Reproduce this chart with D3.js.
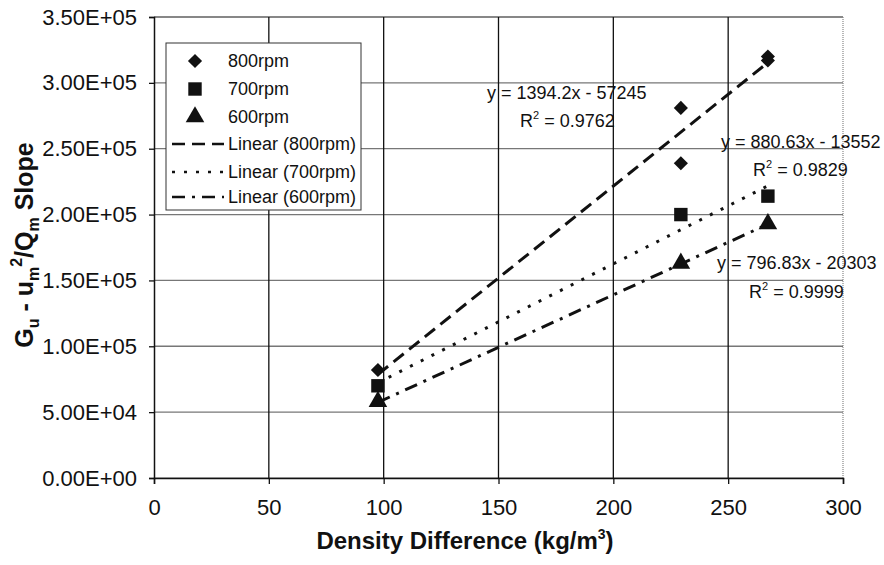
<!DOCTYPE html>
<html>
<head>
<meta charset="utf-8">
<script src="https://cdn.jsdelivr.net/npm/d3@7"></script>
<style>
  body { margin: 0; background: #fff; }
  text { font-family: "Liberation Sans", Arial, sans-serif; }
</style>
</head>
<body>
<div id="chart"></div>
<script>
// data
var xTicks = [0, 50, 100, 150, 200, 250, 300];
var yTicks = [0, 50000, 100000, 150000, 200000, 250000, 300000, 350000];
var yTickLabels = ["0.00E+00", "5.00E+04", "1.00E+05", "1.50E+05", "2.00E+05", "2.50E+05", "3.00E+05", "3.50E+05"];

var x800 = [97.5, 229.4, 229.4, 267.3, 267.3];
var y800 = [82000, 281000, 239000, 320000, 317000];
var x700 = [97.5, 229.4, 267.3];
var y700 = [70000, 200000, 214000];
var x600 = [97.5, 229.4, 267.3];
var y600 = [58000, 163000, 193000];

var seriesNames = ["800rpm", "700rpm", "600rpm"];
var slopes = [1394.2, 880.63, 796.83];
var intercepts = [-57245, -13552, -20303];
var rSquared = ["0.9762", "0.9829", "0.9999"];

var W = 884, H = 565;
var margin = { top: 17, right: 41, bottom: 87, left: 154 },
    width = W - margin.left - margin.right,
    height = H - margin.top - margin.bottom;

var svg = d3.select("#chart").append("svg")
    .attr("width", W).attr("height", H);
var g = svg.append("g")
    .attr("transform", "translate(" + margin.left + "," + margin.top + ")");

var x = d3.scaleLinear().domain([0, 300]).range([0, width]);
var y = d3.scaleLinear().domain([0, 350000]).range([height, 0]);

// grid lines
g.append("g").selectAll("line").data(yTicks).enter().append("line")
    .attr("x1", 0).attr("x2", width)
    .attr("y1", function (d) { return y(d); })
    .attr("y2", function (d) { return y(d); })
    .attr("stroke", function (d) { return d == 350000 ? "#111" : "#777"; })
    .attr("stroke-width", function (d) { return d == 100000 ? 1.6 : 1.2; });
g.append("g").selectAll("line").data(xTicks.slice(1, -1)).enter().append("line")
    .attr("x1", function (d) { return x(d); })
    .attr("x2", function (d) { return x(d); })
    .attr("y1", 0).attr("y2", height)
    .attr("stroke", "#111").attr("stroke-width", 1.3);
// right border (dotted)
g.append("line")
    .attr("x1", width).attr("x2", width).attr("y1", 0).attr("y2", height)
    .attr("stroke", "#888").attr("stroke-width", 1.2).attr("stroke-dasharray", "1,1");

// axes
var yAxis = g.append("g")
    .call(d3.axisLeft(y).tickValues(yTicks)
        .tickFormat(function (d, i) { return yTickLabels[i]; })
        .tickSize(5).tickPadding(12));
var xAxis = g.append("g")
    .attr("transform", "translate(0," + height + ")")
    .call(d3.axisBottom(x).tickValues(xTicks).tickSize(6).tickPadding(15));
[xAxis, yAxis].forEach(function (a) {
    a.select(".domain").attr("stroke", "#111").attr("stroke-width", 1.5);
    a.selectAll(".tick line").attr("stroke", "#111").attr("stroke-width", 1.3);
    a.selectAll("text").attr("font-size", 22).attr("fill", "#111")
        .style("font-family", "Liberation Sans, Arial, sans-serif");
});

// trend lines
var dashes = ["13,7", "3,9", "13,7,3,7"];
var xRanges = [d3.extent(x800), d3.extent(x700), d3.extent(x600)];
slopes.forEach(function (m, i) {
    var ext = xRanges[i];
    g.append("line")
        .attr("x1", x(ext[0])).attr("y1", y(m * ext[0] + intercepts[i]))
        .attr("x2", x(ext[1])).attr("y2", y(m * ext[1] + intercepts[i]))
        .attr("stroke", "#111").attr("stroke-width", 3)
        .attr("stroke-dasharray", dashes[i]);
});

// markers
var diamond = d3.symbol().type(d3.symbolSquare).size(100);
var square = d3.symbol().type(d3.symbolSquare).size(180);
var triangle = d3.symbol().type(d3.symbolTriangle).size(150);

function drawMarkers(xs, ys, sym, rot) {
    g.append("g").selectAll("path").data(xs).enter().append("path")
        .attr("d", sym)
        .attr("transform", function (d, i) {
            return "translate(" + x(d) + "," + y(ys[i]) + ") rotate(" + rot + ")";
        })
        .attr("fill", "#111");
}
drawMarkers(x800, y800, diamond, 45);
drawMarkers(x700, y700, square, 0);
drawMarkers(x600, y600, triangle, 0);

// equation labels
var eqPos = [[487, 99, 520, 127], [721, 148, 753, 176], [717, 269, 749, 298]];
slopes.forEach(function (m, i) {
    var p = eqPos[i];
    svg.append("text").attr("x", p[0]).attr("y", p[1])
        .attr("font-size", 18).attr("fill", "#111")
        .text("y = " + m + "x - " + Math.abs(intercepts[i]));
    var t = svg.append("text").attr("x", p[2]).attr("y", p[3])
        .attr("font-size", 18).attr("fill", "#111");
    t.append("tspan").text("R");
    t.append("tspan").attr("font-size", 11).attr("dy", -8).text("2");
    t.append("tspan").attr("dy", 8).text(" = " + rSquared[i]);
});

// legend
var lg = svg.append("g").attr("transform", "translate(166,43)");
lg.append("rect").attr("width", 195).attr("height", 167)
    .attr("fill", "#fff").attr("stroke", "#333").attr("stroke-width", 1);
var rowY = [18, 46, 74, 101, 129, 154];
var syms = [diamond, square, triangle], rots = [45, 0, 0];
seriesNames.forEach(function (n, i) {
    lg.append("path").attr("d", syms[i])
        .attr("transform", "translate(29," + rowY[i] + ") rotate(" + rots[i] + ")")
        .attr("fill", "#111");
    lg.append("text").attr("x", 62).attr("y", rowY[i] + 6)
        .attr("font-size", 18).attr("fill", "#111").text(n);
    lg.append("line").attr("x1", 6).attr("x2", 58)
        .attr("y1", rowY[i + 3]).attr("y2", rowY[i + 3])
        .attr("stroke", "#111").attr("stroke-width", 2.5)
        .attr("stroke-dasharray", dashes[i]);
    lg.append("text").attr("x", 62).attr("y", rowY[i + 3] + 6)
        .attr("font-size", 18).attr("fill", "#111").text("Linear (" + n + ")");
});

// axis titles
svg.append("text")
    .attr("x", 465).attr("y", 549)
    .attr("text-anchor", "middle").attr("font-size", 24).attr("font-weight", "bold")
    .attr("fill", "#111")
    .call(function (t) {
        t.append("tspan").text("Density Difference (kg/m");
        t.append("tspan").attr("font-size", 14).attr("dy", -10).text("3");
        t.append("tspan").attr("dy", 10).text(")");
    });

var yt = svg.append("text")
    .attr("transform", "translate(33,245) rotate(-90)")
    .attr("text-anchor", "middle").attr("font-size", 25).attr("font-weight", "bold")
    .attr("fill", "#111");
yt.append("tspan").text("G");
yt.append("tspan").attr("font-size", 16).attr("dy", 6).text("u");
yt.append("tspan").attr("dy", -6).text(" - u");
yt.append("tspan").attr("font-size", 16).attr("dy", 6).text("m");
yt.append("tspan").attr("font-size", 16).attr("dy", -17).text("2");
yt.append("tspan").attr("dy", 11).text("/Q");
yt.append("tspan").attr("font-size", 16).attr("dy", 6).text("m");
yt.append("tspan").attr("dy", -6).text(" Slope");
</script>
</body>
</html>
